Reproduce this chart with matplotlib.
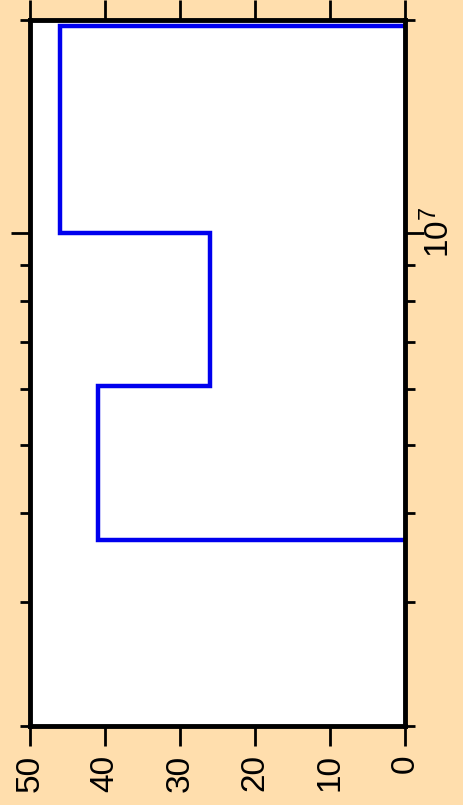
import numpy as np
import matplotlib.pyplot as plt
from matplotlib.ticker import LogLocator, FixedLocator, NullFormatter

plt.rcParams['font.family'] = ['Liberation Sans', 'DejaVu Sans']
plt.rcParams['mathtext.default'] = 'regular'

# histogram: bin edges on a log axis and counts per bin
bin_edges = [3.67e6, 6.07e6, 1.0e7, 1.96e7]
counts = [41, 26, 46]
count_ticks = [0, 10, 20, 30, 40, 50]
log_major = [1e7]

fig = plt.figure(figsize=(4.64, 8.05), dpi=100, facecolor='#FFDEAD')
ax = fig.add_axes([30 / 464, 79 / 805, 375 / 464, 706 / 805])
ax.set_facecolor('white')

# chart is drawn turned on its side: counts run along x (reversed), log values up y
ax.stairs(counts, bin_edges, orientation='horizontal', baseline=0,
          color='#0000EE', linewidth=3.2)

ax.set_yscale('log')
ax.set_ylim(2e6, 2e7)
ax.set_xlim(50, 0)

ax.set_xticks(count_ticks)
ax.tick_params(axis='x', which='major', direction='out', length=14.5, width=2,
               top=True, bottom=True, labelsize=24, labelrotation=90, pad=6)

ax.yaxis.set_major_locator(FixedLocator(log_major))
ax.yaxis.set_minor_locator(LogLocator(base=10, subs=np.arange(2, 10)))
ax.yaxis.set_minor_formatter(NullFormatter())
ax.tick_params(axis='y', which='major', direction='out', length=14, width=2,
               left=True, right=True, labelleft=False, labelright=True,
               labelsize=24, labelrotation=90, pad=-2)
ax.tick_params(axis='y', which='minor', direction='out', length=7.5, width=2,
               left=True, right=True)
for lab in ax.get_yticklabels():
    lab.set_va('center')

for side in ax.spines.values():
    side.set_linewidth(3.5)

fig.savefig('out.png', dpi=100, facecolor=fig.get_facecolor())
